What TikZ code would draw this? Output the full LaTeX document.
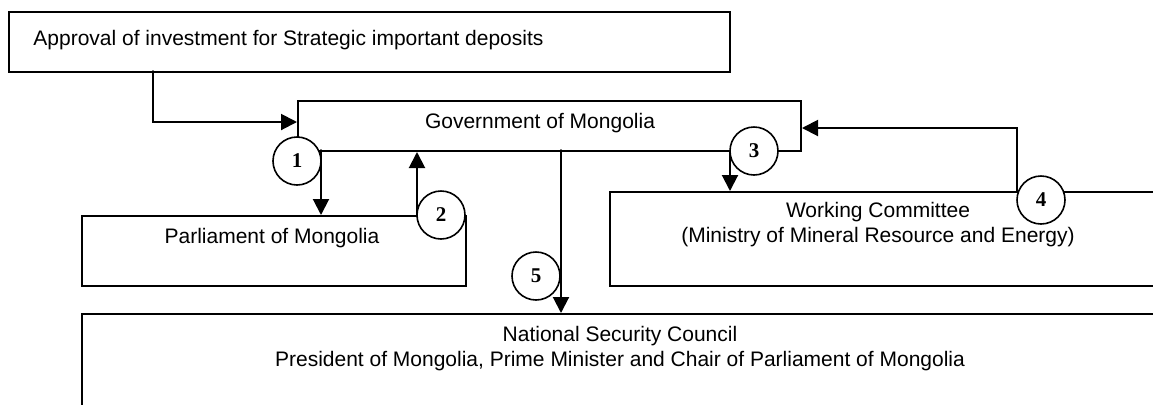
\documentclass[tikz,border=0pt]{standalone}
\usepackage{fontspec}
\setmainfont{Liberation Sans}
\newfontfamily\numfont{Liberation Serif}
\usepackage{tikz}
\usetikzlibrary{arrows.meta}
\tikzstyle{arrow} = [line width=1pt,-{Triangle[length=8pt,width=8pt]}]
\tikzstyle{box} = [draw,line width=1pt,anchor=north west,inner sep=0pt]
\tikzstyle{num} = [circle,draw,fill=white,line width=0.8pt,minimum size=24pt,inner sep=0pt,font=\numfont\bfseries\fontsize{10.5}{11}\selectfont]

\begin{document}
\begin{tikzpicture}[line cap=round,line join=miter,x=0.5pt,y=-0.5pt,font=\fontsize{10.5}{12.5}\selectfont]
                \useasboundingbox (0,0) rectangle (1153,404);
                \clip (0,0) rectangle (1153,404);
                % boxes
                \node[box,minimum width=360.5pt,minimum height=30pt] (appr) at (8,11) {};
                \node[box,minimum width=251.5pt,minimum height=25pt] (gov) at (297,100) {};
                \node[box,minimum width=192pt,minimum height=35pt] (parl) at (81,215) {};
                \node[box,minimum width=276pt,minimum height=47pt] (wc) at (609,191) {};
                \node[box,minimum width=540pt,minimum height=60pt] (nsc) at (81,313) {};
                % arrow starts
                \coordinate (s0) at (153,71);
                \coordinate (s1) at (321,150);
                \coordinate (s2) at (417,215);
                \coordinate (s3) at (730,151);
                \coordinate (s4) at (1017,191);
                \coordinate (s5) at (561,150);
                \draw[arrow] (s0) |- ([yshift=2pt]gov.west);
                \draw[arrow] (s1) -- (s1 |- parl.north);
                \draw[arrow] (s2) -- (s2 |- gov.south);
                \draw[arrow] (s3) -- (s3 |- wc.north);
                \draw[arrow] (s4) |- ([yshift=-1pt]gov.east);
                \draw[arrow] (s5) -- (s5 |- nsc.north);
                % numbered circles
                \node[num] (c1) at (297,161) {1};
                \node[num] (c2) at (441,215) {2};
                \node[num] (c3) at (754,151) {3};
                \node[num] (c4) at (1041,200) {4};
                \node[num] (c5) at (536,276) {5};
                % texts
                \node[anchor=west,inner sep=0pt] (apprtext) at (33,40) {Approval of investment for Strategic important deposits};
                \node (govtext) at (540,123) {Government of Mongolia};
                \node (parltext) at (272,238) {Parliament of Mongolia};
                \node[align=center] (wctext) at (878,225) {Working Committee\\(Ministry of Mineral Resource and Energy)};
                \node[align=center] (nsctext) at (620,349) {National Security Council\\President of Mongolia, Prime Minister and Chair of Parliament of Mongolia};
            \end{tikzpicture}
\end{document}
